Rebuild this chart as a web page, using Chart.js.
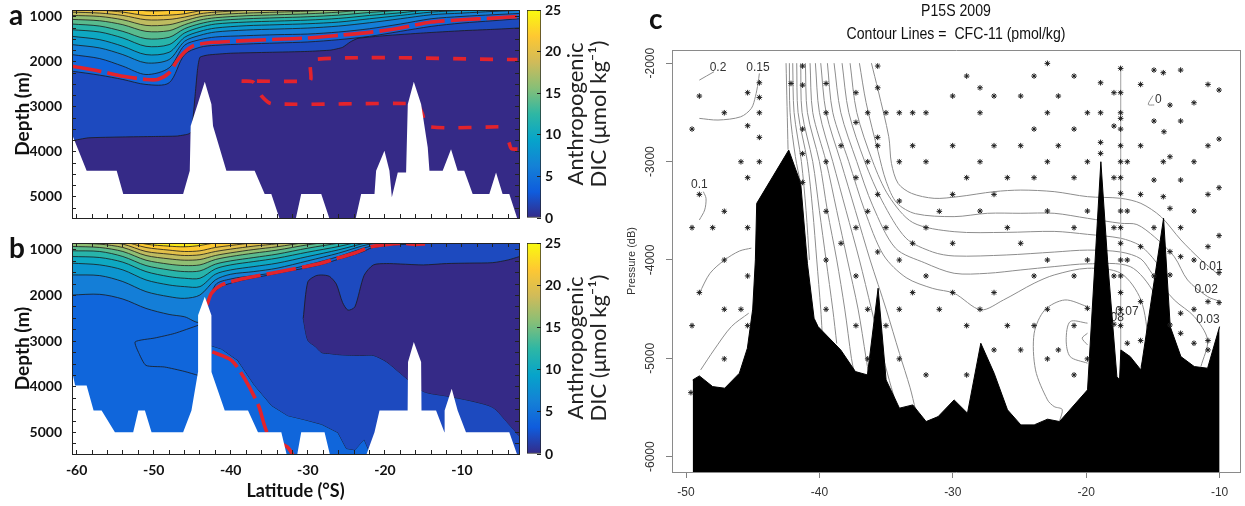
<!DOCTYPE html>
<html>
<head>
<meta charset="utf-8">
<title>Anthropogenic DIC and CFC-11 sections</title>
<script src="https://cdn.jsdelivr.net/npm/chart.js@4.4.1/dist/chart.umd.min.js"></script>
<style>
  html, body { margin: 0; padding: 0; background: #fff; }
  body { position: relative; width: 1245px; height: 506px; overflow: hidden; }
  canvas { position: absolute; }
  .letter { position: absolute; font-family: Lato, sans-serif; font-weight: 700; font-size: 28px; line-height: 28px; color: #111; }
  .cbtitle { position: absolute; width: 220px; height: 48px; font-family: Lato, sans-serif; font-size: 22px; line-height: 23px; text-align: center; color: #222; transform: rotate(-90deg); }
  .ctitle { position: absolute; left: 706px; width: 500px; text-align: center; font-family: "Liberation Sans", Arial, sans-serif; font-size: 17px; line-height: 20px; color: #111; transform: scaleX(0.83); }
</style>
</head>
<body>
<canvas id="chartA" width="525" height="228" style="left:0;top:0"></canvas>
<canvas id="cbarA" width="60" height="228" style="left:520px;top:0"></canvas>
<canvas id="chartB" width="525" height="273" style="left:0;top:233px"></canvas>
<canvas id="cbarB" width="60" height="231" style="left:520px;top:233px"></canvas>
<canvas id="chartC" width="672" height="506" style="left:620px;top:0"></canvas>

<div class="letter" style="left:9px;top:0px">a</div>
<div class="letter" style="left:9px;top:233px">b</div>
<div class="letter" style="left:649px;top:4px">c</div>
<div class="cbtitle" style="left:477px;top:90px">Anthropogenic<br>DIC (μmol kg⁻¹)</div>
<div class="cbtitle" style="left:477px;top:324px">Anthropogenic<br>DIC (μmol kg⁻¹)</div>
<div class="ctitle" style="top:1px">P15S 2009</div>
<div class="ctitle" style="top:24px">Contour Lines =&nbsp; CFC-11 (pmol/kg)</div>

<script>
// ---------------- panels a and b : anthropogenic DIC ----------------
const latEdges = [-60.6, -2.6];
const depthRange = [850, 5470];
const latTicksAB = [-60,-58,-56,-54,-52,-50,-48,-46,-44,-42,-40,-38,-36,-34,-32,-30,-28,-26,-24,-22,-20,-18,-16,-14,-12,-10,-8,-6,-4];
const depthTicksAB = [1000,1250,1500,1750,2000,2250,2500,2750,3000,3250,3500,3750,4000,4250,4500,4750,5000,5250];
const cbarTicks = [0, 5, 10, 15, 20, 25];
const parula = ['#352a87','#0f5cdd','#1481d6','#06a4ca','#2eb7a4','#87bf77','#d1bb59','#fec832','#f9fb0e'];
const bandColor = {0:'#352a87',2:'#1d4abf',4:'#1066db',6:'#147ed7',8:'#0c95cf',10:'#0ea8c2',12:'#28b4aa',14:'#59bb8e',16:'#90be73',18:'#bfbc60',20:'#e3c049',22:'#fdc931',24:'#fbeb1a'};

// panel a contours (depth in m)
const latA = [-60.6,-57,-54,-51,-48,-46,-44,-42,-38,-34,-30,-26,-22,-18,-14,-10,-6,-2.6];
const a_lat2 = [-60.6,-58.5,-54,-50,-47,-45.6,-45.1,-44.6,-44.3,-44.0,-43,-40,-35,-30,-27,-25.5,-24.5,-23.5,-20,-15,-10,-6,-2.6];
const a_lev2 = [3755,3690,3670,3660,3650,3610,3560,2700,2150,1900,1850,1810,1790,1770,1740,1680,1560,1480,1420,1360,1310,1280,1250];
const a_lev4 = [2209,2297,2393,2504,2467,1841,1678,1634,1605,1583,1560,1509,1435,1325,1214,1140,1089,1045];
const a_lev6 = [1841,1929,2098,2283,2135,1634,1509,1450,1420,1398,1384,1339,1266,1162,1045,993,956,927];
const a_lev8 = [1619,1693,1841,2025,1951,1546,1413,1339,1295,1273,1251,1207,1133,1045,956,919,882,860];
const a_lev10 = [1435,1509,1656,1841,1789,1457,1325,1251,1199,1177,1155,1118,1045,971,897,860,831,809];
const a_lev12 = [1288,1339,1472,1656,1619,1361,1236,1162,1118,1096,1074,1037,971,912,838,809,779,764];
const a_lev14 = [1162,1207,1325,1487,1457,1266,1155,1089,1045,1022,1000,963,905,853,787,757,735,735];
const a_lev16 = [1059,1089,1177,1325,1310,1177,1074,1022,978,956,934,897,838,794,735,735,735,735];
const a_lev18 = [971,993,1067,1192,1177,1089,1000,956,919,897,875,838,779,735,735,735,735,735];
const a_lev20 = [897,919,971,1067,1059,1008,934,897,860,838,816,779,735,735,735,735,735,735];
const a_lev22 = [838,853,897,971,963,934,868,838,801,779,757,735,735,735,735,735,735,735];
const a_lev24 = [735,750,794,868,860,823,764,735,735,735,735,735,735,735,735,735,735,735];
// red dashed lines in a
const a_red1Lat = [-60.6,-57,-54,-51,-49.5,-48,-47,-46,-45,-44,-42,-38,-34,-30,-26,-22,-18,-14,-10,-6,-2.6];
const a_red1Dep = [2098,2209,2320,2393,2393,2246,1988,1782,1656,1605,1568,1531,1501,1472,1413,1347,1251,1118,1067,1030,993];
const a_red2Lat = [-36.6,-29.8,-29.6,-29.4,-2.8];
const a_red2Dep = [2430,2430,2380,1951,1951];
const a_red3Lat = [-38.6,-37.2,-36.6,-36.0,-34.7,-15.9,-15.4,-15.1,-14.5,-4.1];
const a_red3Dep = [2430,2440,2560,2760,2931,2931,3050,3167,3440,3440];
const a_red4Lat = [-3.9,-3.6,-2.8];
const a_red4Dep = [3790,3930,3941];
// bathymetry in a
const a_bathyLat = [-60.6,-58.7,-54.8,-53.95,-46.18,-45.32,-45.2,-43.37,-42.51,-42.3,-40.57,-36.9,-35.6,-34.74,-33.44,-31.71,-30.86,-28.26,-26.97,-23.95,-23.08,-21.35,-21.14,-20.06,-19.41,-19.1,-18.33,-17.25,-17.03,-16.25,-15.3,-14.44,-14.22,-12.5,-11.42,-10.56,-9.7,-8.61,-6.45,-5.58,-4.73,-3.86,-2.6];
const a_bathyDep = [3609,4420,4420,4936,4936,4420,3425,2445,2946,3425,4420,4420,4936,4936,5600,5600,4936,4936,5600,5600,4936,4936,4420,3978,4420,5010,4457,4457,2946,2445,2946,3904,4420,4420,3941,4420,4420,4936,4936,4457,4936,4936,5600];

// panel b contours
const latB = [-60.6,-57,-54,-51,-48,-46,-44,-42,-40,-37,-34,-30,-26,-22,-18,-14,-10,-6,-2.6];
const b_lev6 = [1989,1974,2077,2282,2414,2465,2575,1769,1637,1564,1490,1329,1146,926,845,816,801,787,779];
const b_lev8 = [1549,1564,1695,1915,2025,2062,1989,1659,1534,1476,1402,1241,1072,875,801,772,757,743,743];
const b_lev10 = [1292,1329,1439,1659,1769,1805,1805,1534,1439,1366,1292,1146,999,831,757,743,743,743,743];
const b_lev12 = [1146,1168,1270,1476,1586,1622,1622,1417,1329,1256,1182,1050,926,779,743,743,743,743,743];
const b_lev14 = [1021,1036,1146,1344,1439,1476,1461,1314,1241,1168,1094,963,853,743,743,743,743,743,743];
const b_lev16 = [926,948,1036,1226,1314,1344,1329,1212,1146,1072,1006,889,801,743,743,743,743,743,743];
const b_lev18 = [853,875,948,1124,1197,1226,1212,1124,1065,992,933,831,757,743,743,743,743,743,743];
const b_lev20 = [787,816,875,1036,1094,1124,1109,1036,984,918,867,772,743,743,743,743,743,743,743];
const b_lev22 = [743,765,816,948,1006,1036,1021,948,904,845,801,743,743,743,743,743,743,743,743];
const b_lev24 = [743,743,757,875,919,933,904,845,801,757,743,743,743,743,743,743,743,743,743];
const latBm = [-43.1,-42.5,-41.2,-39.1,-36.9,-34.7,-32.6,-30.4,-28.2,-26.1,-25,-23.9,-22.7,-21.8,-19.6,-17.4,-14.8,-12,-2.6];
const b_lev4up = [2230,1980,1800,1690,1610,1540,1470,1400,1320,1210,1160,1100,1030,960,900,880,860,840,830];
const b_lev4low = [3000,3100,3170,3420,3970,4410,4630,4720,4820,5000,5350,5380,5150,5500,6000,6000,6000,6000,6000];
const latBlob = [-30.6,-30.0,-29,-28.2,-27.2,-26.3,-25.5,-24.8,-23.9,-22.7,-21.5,-19.8,-18,-15,-12,-9,-6,-4,-2.6];
const b_blobTop = [2500,1700,1570,1550,1580,1750,2150,2320,2250,1560,1330,1300,1310,1330,1300,1290,1280,1220,1150];
const b_blobBot = [2500,2980,3120,3250,3270,3290,3300,3305,3310,3310,3310,3450,3700,4100,4200,4300,4450,4800,5070];
const b_wedgeLat = [-44.2,-47.3,-49.85,-52.4,-51.9,-51.0,-48.6,-46.05,-44.2];
const b_wedgeDep = [2650,2830,2930,3015,3270,3530,3565,3660,3750];
const b_red1Lat = [-43.1,-42.5,-41.2,-39.1,-34.7,-30.4,-28.2,-26.1,-23.9,-21.8,-19.6,-17.4,-16.1,-14.8];
const b_red1Dep = [2210,1950,1770,1660,1510,1370,1290,1180,1070,930,880,860,880,870];
const b_red2Lat = [-42.4,-39.9,-38.2,-36.4,-35.3,-34.0,-32.6,-31.9];
const b_red2Dep = [3235,3418,3821,4408,4994,5200,5324,5507];
const b_bathyLat = [-60.6,-60.2,-58.7,-57.8,-56.76,-55.03,-52.66,-52.0,-51.14,-50.28,-46.18,-45.1,-44.25,-44.24,-43.37,-42.51,-42.5,-40.78,-37.76,-36.47,-33.44,-32.58,-31.5,-30.86,-27.83,-26.97,-22.65,-21.35,-20.7,-17.05,-17.0,-16.25,-15.3,-15.25,-13.36,-12.28,-12.25,-11.33,-10.56,-9.48,-3.86,-2.6];
const b_bathyDep = [3640,3970,3970,4518,4518,4994,4994,4518,4518,4994,4994,4518,3675,2430,2025,2430,3675,4518,4518,4994,4994,5600,5600,4994,4994,5600,5600,4994,4518,4518,3455,3015,3455,4518,4518,4994,4518,4041,4518,4994,4994,5600];

// ---------------- panel c : CFC-11 (P15S 2009) ----------------
const cLatRange = [-51.05, -8.47];
const cPresRange = [-6156, -1866];
const cTicksX = [-50, -40, -30, -20, -10];
const cTicksY = [-6000, -5000, -4000, -3000, -2000];
const c_bathyLat = [-49.5,-49.0,-48.0,-47.1,-46.0,-45.4,-45.0,-44.8,-44.7,-42.3,-41.4,-40.9,-40.4,-40.1,-38.4,-37.3,-36.4,-35.6,-35.0,-34.0,-33.0,-32.0,-31.1,-29.9,-28.9,-27.9,-26.9,-25.9,-24.9,-23.9,-22.9,-22.0,-19.9,-18.9,-18.4,-17.7,-17.5,-17.4,-16.7,-15.9,-14.2,-13.7,-12.9,-11.9,-10.9,-10.0];
const c_bathyPres = [-5220,-5179,-5288,-5304,-5152,-4898,-4500,-4000,-3425,-2883,-3222,-4034,-4593,-4678,-4915,-5135,-5169,-4288,-5220,-5507,-5474,-5643,-5593,-5423,-5558,-4847,-5152,-5524,-5677,-5677,-5619,-5643,-5321,-3002,-4000,-5186,-5220,-4915,-4983,-5118,-3577,-4678,-4983,-5084,-5101,-4678];
const f1 = [[-42.5,-2000],[-42.35,-2880]];
const f2 = [[-42.25,-2000],[-42.2,-2500],[-41.8,-2950],[-41.4,-3230]];
const f3 = [[-42.0,-2000],[-41.9,-2500],[-41.35,-3000],[-41.0,-3500],[-40.75,-4000]];
const f4 = [[-41.7,-2000],[-41.6,-2500],[-40.9,-3000],[-40.5,-3500],[-40.2,-4000],[-39.9,-4500],[-39.8,-4720]];
const f5 = [[-41.4,-2000],[-41.3,-2500],[-40.5,-3000],[-40.0,-3500],[-39.5,-4000],[-39.0,-4500],[-38.7,-4850]];
const f6 = [[-41.05,-2000],[-40.9,-2500],[-40.0,-3000],[-39.4,-3500],[-38.7,-4000],[-38.1,-4500],[-37.6,-5000],[-37.4,-5140]];
const f7 = [[-40.7,-2000],[-40.5,-2500],[-39.5,-3000],[-38.7,-3500],[-37.9,-4000],[-37.1,-4500],[-36.5,-5000],[-36.3,-5170]];
const f8 = [[-40.3,-2000],[-40.0,-2500],[-39.0,-3000],[-38.0,-3500],[-37.0,-4000],[-36.1,-4500],[-35.2,-5000],[-34.6,-5300],[-34.2,-5480]];
const f9 = [[-39.9,-2000],[-39.5,-2500],[-38.4,-3000],[-37.3,-3500],[-36.2,-4000],[-35.0,-4500],[-34.0,-4950],[-33.2,-5300],[-32.8,-5520]];
const f10 = [[-39.4,-2000],[-39.0,-2500],[-37.8,-3000],[-36.6,-3500],[-35.2,-3950],[-33.5,-4180],[-31.5,-4290],[-29.9,-4339],[-27.9,-4508],[-26.2,-4407],[-23.9,-4237],[-22.4,-4153],[-19.9,-4085],[-17.4,-4136],[-15.9,-4407],[-15.4,-4847],[-15.9,-5084]];
const f11 = [[-38.9,-2000],[-38.4,-2500],[-37.2,-3000],[-36.0,-3450],[-34.3,-3880],[-32.1,-4030],[-29.9,-4136],[-27.4,-4136],[-24.9,-4102],[-22.4,-4068],[-19.9,-4040],[-16.7,-4068],[-14.9,-4339],[-14.4,-4610]];
const f12 = [[-38.3,-2000],[-37.8,-2500],[-36.6,-3000],[-35.3,-3400],[-33.5,-3780],[-31.5,-3920],[-29.9,-3960],[-26,-3950],[-22.4,-3920],[-19.9,-3900],[-17.4,-3920],[-15.9,-3990],[-15.0,-4150],[-13.4,-4407],[-11.9,-4576],[-10.9,-4813],[-11.4,-5084]];
const f13 = [[-37.7,-2000],[-37.2,-2500],[-36.0,-3000],[-34.8,-3350],[-33.0,-3620],[-29.9,-3713],[-26,-3720],[-22.4,-3710],[-19.9,-3740],[-17.4,-3780],[-16,-3850],[-15.2,-3950],[-14.6,-4050]];
const f14 = [[-37.0,-2000],[-36.5,-2400],[-35.6,-2900],[-35.0,-3200],[-34.2,-3420],[-32.8,-3530],[-29.9,-3560],[-27.4,-3526],[-24.9,-3526],[-22.4,-3526],[-19.9,-3577],[-17.4,-3628],[-16.2,-3640],[-14.9,-3764],[-13.4,-3967],[-12.4,-4204],[-10.9,-4373],[-10.0,-4420]];
const f15 = [[-36.1,-2000],[-35.6,-2274],[-34.8,-2748],[-34.6,-3018],[-34.1,-3222],[-33.1,-3323],[-31.4,-3374],[-29.6,-3357],[-26.9,-3306],[-24.9,-3290],[-22.4,-3306],[-19.9,-3357],[-17.4,-3374],[-15.9,-3425],[-14.4,-3560],[-12.9,-3797],[-11.4,-4000],[-10.2,-4136],[-10.0,-4160]];
const c02 = [[-49.0,-2172],[-47.9,-2087]];
const c015 = [[-49.0,-2561],[-47.6,-2578],[-45.9,-2545],[-45.1,-2459],[-44.8,-2341],[-44.6,-2205],[-44.5,-2104]];
const c01 = [[-48.7,-3306],[-48.5,-3374],[-48.6,-3492],[-49.0,-3594]];
const cLeft1 = [[-49.0,-4339],[-48.2,-4136],[-47.1,-4000],[-46.0,-3910],[-45.1,-3880]];
const cLeft2 = [[-48.9,-5118],[-47.9,-4915],[-46.6,-4678],[-45.3,-4542]];
const cLoopBig = [[-19.9,-4475],[-21.6,-4407],[-23.1,-4508],[-23.9,-4745],[-23.8,-5118],[-22.9,-5423],[-22.4,-5491],[-21.8,-5520],[-22.0,-5640]];
const cLoop07 = [[-19.9,-4643],[-21.2,-4627],[-21.5,-4813],[-21.2,-4983],[-19.9,-5050]];
const cLoop08 = [[-19.9,-4745],[-20.3,-4796],[-19.9,-4864]];
const cZero = [[-15.0,-2330],[-15.35,-2420],[-14.9,-2425]];
const cStationLine = [[-17.42,-2030],[-17.42,-5220]];
const cLabels = [['0.2',-47.6,-2050],['0.15',-44.6,-2050],['0.1',-49.0,-3238],['0',-14.6,-2375],['0.01',-10.65,-4073],['0.02',-11.0,-4306],['0.03',-10.87,-4611],['0.08',-18.05,-4590],['0.07',-16.94,-4529]];
const stations = [
  [-41.26,-2029],[-35.63,-2029],[-44.5,-2199],[-42.13,-2206],[-41.26,-2223],[-39.5,-2206],[-49.0,-2334],[-45.38,-2300],[-44.5,-2348],[-37.26,-2300],[-35.63,-2250],[-30.01,-2334],
  [-47.13,-2504],[-44.5,-2504],[-39.5,-2504],[-36.38,-2504],[-35.01,-2504],[-34.01,-2504],[-33.01,-2504],[-32.01,-2504],[-49.55,-2670],[-45.38,-2636],[-41.26,-2670],[-37.26,-2602],
  [-44.5,-2754],[-35.63,-2754],[-38.38,-2839],[-35.63,-2839],[-33.01,-2839],[-30.01,-2839],[-45.88,-3002],[-44.5,-3002],[-41.26,-2920],[-39.5,-3002],[-36.38,-3002],[-34.01,-3002],[-32.01,-3002],
  [-45.38,-3164],[-41.26,-3212],[-37.26,-3164],[-49.0,-3334],[-35.63,-3334],[-34.01,-3401],[-30.01,-3334],[-47.13,-3506],[-39.5,-3506],[-36.38,-3506],[-31.01,-3506],
  [-49.55,-3672],[-48.0,-3672],[-45.38,-3672],[-37.26,-3672],[-35.01,-3672],[-32.01,-3672],[-38.38,-3831],[-33.01,-3831],[-30.01,-3831],[-47.13,-4001],[-39.5,-4001],[-35.63,-3919],[-34.01,-4001],
  [-22.91,-2002],[-17.42,-2053],[-28.96,-2131],[-23.91,-2131],[-20.91,-2131],[-14.92,-2070],[-14.22,-2097],[-12.92,-2070],[-27.96,-2250],[-18.92,-2199],[-15.92,-2216],[-10.87,-2216],[-10.04,-2273],
  [-26.91,-2334],[-24.91,-2334],[-22.09,-2334],[-17.92,-2300],[-17.42,-2300],[-27.96,-2504],[-22.91,-2504],[-19.91,-2504],[-18.92,-2504],[-17.42,-2504],[-17.42,-2561],[-13.72,-2426],[-11.92,-2402],
  [-23.91,-2670],[-20.91,-2670],[-17.92,-2639],[-17.42,-2670],[-14.92,-2588],[-12.92,-2588],[-14.17,-2697],[-26.91,-2839],[-24.91,-2839],[-22.09,-2839],[-18.92,-2805],[-18.92,-2917],[-17.42,-2839],[-15.92,-2839],[-10.87,-2839],[-10.04,-2771],
  [-27.96,-3002],[-22.91,-3002],[-19.91,-3002],[-17.42,-3002],[-16.92,-3002],[-14.22,-3002],[-13.72,-2951],[-11.92,-3002],[-28.96,-3164],[-25.91,-3164],[-23.91,-3164],[-20.91,-3164],[-17.92,-3164],[-17.42,-3164],[-14.92,-3188],[-12.92,-3188],
  [-26.91,-3334],[-17.42,-3323],[-15.92,-3334],[-14.22,-3357],[-10.87,-3334],[-10.04,-3266],[-27.96,-3503],[-22.91,-3503],[-19.91,-3503],[-17.42,-3503],[-16.92,-3503],[-13.72,-3476],[-11.92,-3503],
  [-25.91,-3672],[-20.91,-3672],[-17.92,-3672],[-17.42,-3672],[-14.92,-3672],[-12.92,-3672],[-10.04,-3753],[-24.91,-3831],[-17.42,-3831],[-15.92,-3865],[-13.72,-3916],[-12.92,-3967],[-10.87,-3865],
  [-22.91,-4001],[-19.91,-4001],[-17.42,-4001],[-16.92,-4001],[-11.92,-4001],
  [-45.38,-4163],[-37.26,-4163],[-32.01,-4163],[-49.0,-4332],[-33.01,-4332],[-30.01,-4332],[-47.13,-4502],[-45.88,-4502],[-39.5,-4502],[-36.38,-4502],[-34.01,-4502],[-31.01,-4502],
  [-49.55,-4668],[-45.38,-4668],[-37.26,-4668],[-35.01,-4668],[-47.13,-5006],[-36.38,-5006],[-34.01,-5006],[-32.01,-5169],[-49.63,-5349],
  [-23.91,-4163],[-20.91,-4163],[-17.92,-4163],[-17.42,-4163],[-14.92,-4163],[-13.72,-4153],[-10.04,-4129],[-26.91,-4332],[-17.42,-4332],[-15.92,-4424],[-10.87,-4424],[-10.04,-4434],
  [-27.96,-4502],[-22.91,-4502],[-19.91,-4492],[-17.42,-4502],[-12.92,-4542],[-11.92,-4502],[-28.96,-4668],[-25.91,-4668],[-23.91,-4668],[-20.91,-4668],[-17.92,-4654],[-17.42,-4668],
  [-16.92,-4847],[-15.92,-4820],[-13.72,-4661],[-12.92,-4746],[-11.92,-4847],[-10.87,-4820],[-26.91,-4915],[-24.91,-4915],[-22.09,-4915],[-10.87,-4915],[-22.91,-5006],[-19.91,-5006],[-28.96,-5169],[-20.91,-5169]
];

// ---------------- helpers ----------------
const pts = (xs, ys) => xs.map((x, i) => ({ x: x, y: ys[i] }));
const pairs = list => list.map(p => ({ x: p[0], y: p[1] }));

function contourBand(xs, ys, color, tension) {
  return { data: pts(xs, ys), borderColor: '#1b1b1b', borderWidth: 0.8, backgroundColor: color,
           fill: { value: 0 }, tension: tension === undefined ? 0.3 : tension };
}
function redLine(xs, ys, dash) {
  return { data: pts(xs, ys), borderColor: '#e3232c', borderWidth: 3.6, borderDash: dash,
           fill: false, tension: 0.25, borderCapStyle: 'butt' };
}
function whiteBathy(xs, ys) {
  return { data: pts(xs, ys), borderWidth: 0, borderColor: '#fff', backgroundColor: '#fff', fill: { value: 9000 }, tension: 0 };
}
// first pushed = drawn first (lowest layer)
function layer(list) {
  list.forEach((d, i) => { d.order = list.length - i; d.clip = 0; d.pointRadius = 0; d.pointHoverRadius = 0; });
  return list;
}
// fixed axis size, and no extra room for half labels at the ends
const fixWidth = w => s => { s.width = w; s.paddingTop = 0; s.paddingBottom = 0; s.paddingLeft = 0; s.paddingRight = 0; };
const fixHeight = h => s => { s.height = h; s.paddingTop = 0; s.paddingBottom = 0; s.paddingLeft = 0; s.paddingRight = 0; };

function parulaGradient(chart) {
  const area = chart.chartArea;
  if (!area) return parula[0];
  const g = chart.ctx.createLinearGradient(0, area.bottom, 0, area.top);
  parula.forEach((c, i) => g.addColorStop(i / (parula.length - 1), c));
  return g;
}

const boldTick = { family: 'Lato', size: 14, weight: 'bold' };
const frame = { color: '#222', width: 1, z: 2 };
const inward = { drawOnChartArea: false, tickLength: -4, color: '#222', tickWidth: 1, z: 1 };

function sectionOptions(withXLabels, xAxisHeight) {
  const latTicks = s => { s.ticks = latTicksAB.map(v => ({ value: v })); };
  const depthTicks = s => { s.ticks = depthTicksAB.map(v => ({ value: v })); };
  return {
    responsive: false, animation: false, devicePixelRatio: 1, events: [],
    layout: { padding: { left: 0, right: 6, top: 10, bottom: 0 } },
    plugins: { legend: { display: false }, tooltip: { enabled: false } },
    scales: {
      x: { type: 'linear', position: 'bottom', min: latEdges[0], max: latEdges[1], afterBuildTicks: latTicks,
           ticks: { display: withXLabels, autoSkip: false, maxRotation: 0, padding: 12, font: boldTick, color: '#111',
                    callback: v => (v % 10 === 0 ? String(v) : '') },
           grid: inward, border: frame,
           title: { display: withXLabels, text: 'Latitude (°S)', font: { family: 'Lato', size: 18, weight: 'bold' }, color: '#111', padding: { top: 0, bottom: 4 } },
           afterFit: fixHeight(xAxisHeight) },
      xTop: { type: 'linear', position: 'top', min: latEdges[0], max: latEdges[1], afterBuildTicks: latTicks,
              ticks: { display: false }, grid: inward, border: frame, afterFit: fixHeight(0) },
      y: { type: 'linear', position: 'left', reverse: true, min: depthRange[0], max: depthRange[1], afterBuildTicks: depthTicks,
           ticks: { autoSkip: false, padding: 14, font: boldTick, color: '#111', callback: v => (v % 1000 === 0 ? String(v) : '') },
           grid: inward, border: frame,
           title: { display: true, text: 'Depth (m)', font: { family: 'Lato', size: 19, weight: 'bold' }, color: '#111', padding: { top: 11, bottom: 0 } },
           afterFit: fixWidth(72) },
      yRight: { type: 'linear', position: 'right', reverse: true, min: depthRange[0], max: depthRange[1], afterBuildTicks: depthTicks,
                ticks: { display: false }, grid: inward, border: frame, afterFit: fixWidth(0) }
    }
  };
}

function colorbar(id) {
  return new Chart(document.getElementById(id), {
    type: 'bar',
    data: { labels: [''], datasets: [{ data: [[cbarTicks[0], cbarTicks[cbarTicks.length - 1]]],
      backgroundColor: ctx => parulaGradient(ctx.chart), borderColor: '#222', borderWidth: 1, borderSkipped: false,
      barPercentage: 1, categoryPercentage: 1 }] },
    options: {
      responsive: false, animation: false, devicePixelRatio: 1, events: [],
      layout: { padding: { left: 7, right: 0, top: 10, bottom: 10 } },
      plugins: { legend: { display: false }, tooltip: { enabled: false } },
      scales: {
        x: { display: false },
        y: { position: 'right', min: 0, max: 25, afterBuildTicks: s => { s.ticks = cbarTicks.map(v => ({ value: v })); },
             ticks: { padding: 8, font: boldTick, color: '#111' },
             grid: { drawOnChartArea: false, tickLength: -4, color: '#222', z: 1 }, border: { display: false },
             afterFit: fixWidth(39) }
      }
    }
  });
}

// ---------------- panel a ----------------
const dsA = [
  { data: pts(latEdges, [0, 0]), borderWidth: 0, backgroundColor: bandColor[0], fill: { value: 9000 } },
  contourBand(a_lat2, a_lev2, bandColor[2], 0.15),
  contourBand(latA, a_lev4, bandColor[4]),
  contourBand(latA, a_lev6, bandColor[6]),
  contourBand(latA, a_lev8, bandColor[8]),
  contourBand(latA, a_lev10, bandColor[10]),
  contourBand(latA, a_lev12, bandColor[12]),
  contourBand(latA, a_lev14, bandColor[14]),
  contourBand(latA, a_lev16, bandColor[16]),
  contourBand(latA, a_lev18, bandColor[18]),
  contourBand(latA, a_lev20, bandColor[20]),
  contourBand(latA, a_lev22, bandColor[22]),
  contourBand(latA, a_lev24, bandColor[24]),
  redLine(a_red1Lat, a_red1Dep, [30, 6]),
  redLine(a_red2Lat, a_red2Dep, [13, 14]),
  redLine(a_red3Lat, a_red3Dep, [13, 14]),
  redLine(a_red4Lat, a_red4Dep, [13, 14]),
  whiteBathy(a_bathyLat, a_bathyDep)
];
new Chart(document.getElementById('chartA'), { type: 'line', data: { datasets: layer(dsA) }, options: sectionOptions(false, 10) });

// ---------------- panel b ----------------
const dsB = [
  { data: pts(latEdges, [0, 0]), borderWidth: 0, backgroundColor: bandColor[4], fill: { value: 9000 } },
  { data: pts(latBm, b_lev4low), borderColor: '#1b1b1b', borderWidth: 0.8, fill: false, tension: 0 },
  { data: pts(latBm, b_lev4up), borderColor: '#1b1b1b', borderWidth: 0.8, backgroundColor: bandColor[2], fill: '-1', tension: 0.25 },
  { data: pts(latBlob, b_blobBot), borderColor: '#1b1b1b', borderWidth: 0.8, fill: false, tension: 0.25 },
  { data: pts(latBlob, b_blobTop), borderColor: '#1b1b1b', borderWidth: 0.8, backgroundColor: bandColor[0], fill: '-1', tension: 0.25 },
  { data: pts(b_wedgeLat, b_wedgeDep), borderColor: '#1b1b1b', borderWidth: 0.8, fill: false, tension: 0.2 },
  contourBand(latB, b_lev6, bandColor[6]),
  contourBand(latB, b_lev8, bandColor[8]),
  contourBand(latB, b_lev10, bandColor[10]),
  contourBand(latB, b_lev12, bandColor[12]),
  contourBand(latB, b_lev14, bandColor[14]),
  contourBand(latB, b_lev16, bandColor[16]),
  contourBand(latB, b_lev18, bandColor[18]),
  contourBand(latB, b_lev20, bandColor[20]),
  contourBand(latB, b_lev22, bandColor[22]),
  contourBand(latB, b_lev24, bandColor[24]),
  redLine(b_red1Lat, b_red1Dep, [30, 6]),
  redLine(b_red2Lat, b_red2Dep, [30, 6]),
  whiteBathy(b_bathyLat, b_bathyDep)
];
new Chart(document.getElementById('chartB'), { type: 'line', data: { datasets: layer(dsB) }, options: sectionOptions(true, 52) });

colorbar('cbarA');
colorbar('cbarB');

// ---------------- panel c ----------------
const cfcLines = [f1, f2, f3, f4, f5, f6, f7, f8, f9, f10, f11, f12, f13, f14, f15, c02, c015, c01, cLeft1, cLeft2, cLoopBig, cLoop07, cLoop08, cZero];
const dsC = cfcLines.map(line => ({ data: pairs(line), borderColor: '#8d8d8d', borderWidth: 1, fill: false, tension: 0.3 }));
dsC.push({ data: pairs(cStationLine), borderColor: '#b5b5b5', borderWidth: 1, fill: false });
const labelAfter = dsC.length - 1;
dsC.push({ data: pts(c_bathyLat, c_bathyPres), borderColor: '#000', borderWidth: 1, backgroundColor: '#000', fill: { value: -9000 }, tension: 0 });
const stationSet = { data: pairs(stations), showLine: false, fill: false };
dsC.push(stationSet);
layer(dsC);
Object.assign(stationSet, { pointStyle: 'star', pointRadius: 2.8, pointBorderColor: '#1e1e1e', pointBorderWidth: 1, pointBackgroundColor: '#1e1e1e', clip: 4 });

const contourLabels = {
  id: 'contourLabels',
  afterDatasetDraw(chart, args) {
    if (args.index !== labelAfter) return;
    const ctx = chart.ctx, x = chart.scales.x, y = chart.scales.y;
    ctx.save();
    ctx.font = '12px "Liberation Sans", Arial, sans-serif';
    ctx.fillStyle = '#333';
    ctx.textAlign = 'center';
    ctx.textBaseline = 'middle';
    cLabels.forEach(l => ctx.fillText(l[0], x.getPixelForValue(l[1]), y.getPixelForValue(l[2])));
    ctx.restore();
  }
};

const cFont = { family: 'Liberation Sans', size: 12 };
new Chart(document.getElementById('chartC'), {
  type: 'line',
  data: { datasets: dsC },
  options: {
    responsive: false, animation: false, devicePixelRatio: 1, events: [],
    layout: { padding: { left: 0, right: 52, top: 50, bottom: 0 } },
    plugins: { legend: { display: false }, tooltip: { enabled: false } },
    scales: {
      x: { type: 'linear', position: 'bottom', min: cLatRange[0], max: cLatRange[1],
           afterBuildTicks: s => { s.ticks = cTicksX.map(v => ({ value: v })); },
           ticks: { autoSkip: false, maxRotation: 0, padding: 7, font: cFont, color: '#333', callback: v => String(v) },
           grid: { drawOnChartArea: false, tickLength: 6, color: '#808080' }, border: { color: '#8a8a8a' },
           afterFit: fixHeight(34) },
      xTop: { type: 'linear', position: 'top', min: cLatRange[0], max: cLatRange[1], ticks: { display: false },
              grid: { drawOnChartArea: false, drawTicks: false }, border: { color: '#8a8a8a' }, afterFit: fixHeight(0) },
      y: { type: 'linear', position: 'left', min: cPresRange[0], max: cPresRange[1],
           afterBuildTicks: s => { s.ticks = cTicksY.map(v => ({ value: v })); },
           ticks: { autoSkip: false, minRotation: 90, maxRotation: 90, crossAlign: 'center', padding: 0, font: cFont, color: '#333', callback: v => String(v) },
           grid: { drawOnChartArea: false, tickLength: 6, color: '#808080' }, border: { color: '#8a8a8a' },
           title: { display: true, text: 'Pressure (dB)', color: '#333', font: { family: 'Liberation Sans', size: 11 }, padding: { top: 5, bottom: 0 } },
           afterFit: fixWidth(52) },
      yRight: { type: 'linear', position: 'right', min: cPresRange[0], max: cPresRange[1], ticks: { display: false },
                grid: { drawOnChartArea: false, drawTicks: false }, border: { color: '#8a8a8a' }, afterFit: fixWidth(0) }
    }
  },
  plugins: [contourLabels]
});
</script>
</body>
</html>
